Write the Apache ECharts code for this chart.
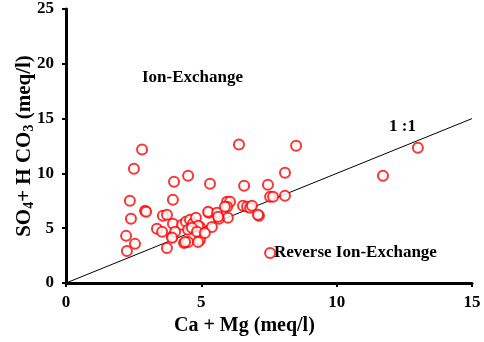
<!DOCTYPE html>
<html>
<head>
<meta charset="utf-8">
<script src="https://cdn.jsdelivr.net/npm/echarts@6/dist/echarts.min.js"></script>
<style>
  html, body { margin: 0; padding: 0; background: #fff; }
  #chart { width: 484px; height: 342px; }
</style>
</head>
<body>
<div id="chart"></div>
<script>
// Ca + Mg (meq/l)
const caMg = [
  2.81, 2.51, 2.36, 2.40, 2.22, 2.25, 2.55, 2.92, 2.96, 3.58,
  3.36, 3.55, 3.95, 3.99, 4.51, 3.73, 3.92, 3.95, 4.36, 4.51,
  6.39, 8.50, 5.32, 6.58, 7.46, 8.09, 8.09, 7.54, 7.65, 7.13,
  6.54, 6.69, 6.80, 6.87, 5.95, 6.06, 5.95, 5.98, 5.28, 5.39,
  5.65, 4.95, 4.95, 7.54, 11.71, 13.00, 4.29, 4.43, 4.58, 4.69,
  4.80, 4.88, 4.51, 4.65, 5.25, 5.58, 4.84, 5.13, 4.40, 4.88,
  4.03, 3.92, 3.73, 5.62, 7.09, 5.87
];
// SO4 + HCO3 (meq/l)
const so4Hco3 = [
  12.17, 10.43, 7.50, 5.86, 4.30, 2.93, 3.57, 6.59, 6.50, 6.13,
  4.94, 4.67, 7.59, 9.24, 9.79, 3.20, 4.21, 5.40, 3.66, 3.75,
  12.63, 12.53, 9.06, 8.87, 8.97, 10.06, 7.96, 7.87, 7.87, 6.13,
  7.04, 6.95, 6.86, 7.04, 7.41, 7.41, 6.95, 5.95, 6.40, 5.12,
  5.86, 5.12, 3.93, 2.74, 9.79, 12.35, 5.31, 5.58, 5.76, 5.40,
  5.95, 5.22, 4.85, 5.03, 6.50, 6.40, 4.67, 4.57, 3.75, 3.75,
  4.67, 4.12, 6.22, 6.04, 6.22, 6.95
];
// 1:1 reference line
const lineX = [0, 15];
const lineY = [0, 15];

const points = caMg.map((x, i) => [x, so4Hco3[i]]);
const oneToOne = lineX.map((x, i) => [x, lineY[i]]);

const serif = '"Liberation Serif", "DejaVu Serif", serif';

const chart = echarts.init(document.getElementById('chart'), null, { renderer: 'canvas' });
chart.setOption({
  backgroundColor: '#ffffff',
  animation: false,
  grid: { left: 66, right: 12, top: 9, bottom: 59, outerBoundsMode: 'none' },
  xAxis: {
    type: 'value',
    min: 0,
    max: 15,
    interval: 5,
    axisLine: { lineStyle: { color: '#000', width: 3 } },
    axisTick: { show: true, length: 4, lineStyle: { color: '#000', width: 2 } },
    axisLabel: { color: '#000', fontFamily: serif, fontWeight: 'bold', fontSize: 17, margin: 11 },
    splitLine: { show: false }
  },
  yAxis: {
    type: 'value',
    min: 0,
    max: 25,
    interval: 5,
    name: 'SO{sub|4}+ H CO{sub|3} (meq/l)',
    nameLocation: 'middle',
    nameGap: 30,
    nameRotate: 90,
    nameMoveOverlap: false,
    nameTextStyle: {
      color: '#000', fontFamily: serif, fontWeight: 'bold', fontSize: 21,
      rich: {
        sub: { fontFamily: serif, fontWeight: 'bold', fontSize: 14, color: '#000', padding: [9, 0, 0, 0] }
      }
    },
    axisLine: { show: true, lineStyle: { color: '#000', width: 3 } },
    axisTick: { show: true, length: 4, lineStyle: { color: '#000', width: 2 } },
    axisLabel: { color: '#000', fontFamily: serif, fontWeight: 'bold', fontSize: 17, margin: 12 },
    splitLine: { show: false }
  },
  graphic: [
    { type: 'text', left: 174, top: 316, style: { text: 'Ca + Mg (meq/l)', fill: '#000', font: 'bold 20px ' + serif } },
    { type: 'text', left: 142, top: 69, style: { text: 'Ion-Exchange', fill: '#000', font: 'bold 17px ' + serif } },
    { type: 'text', left: 389, top: 118, style: { text: '1 :1', fill: '#000', font: 'bold 17px ' + serif } },
    { type: 'text', left: 274, top: 244, style: { text: 'Reverse Ion-Exchange', fill: '#000', font: 'bold 17px ' + serif } }
  ],
  series: [
    {
      type: 'line',
      data: oneToOne,
      symbol: 'none',
      lineStyle: { color: '#000', width: 1 },
      z: 1
    },
    {
      type: 'scatter',
      data: points,
      symbol: 'circle',
      symbolSize: 10,
      itemStyle: { color: '#ffffff', borderColor: '#ff0000', borderWidth: 2 },
      z: 2
    }
  ]
});
</script>
</body>
</html>
